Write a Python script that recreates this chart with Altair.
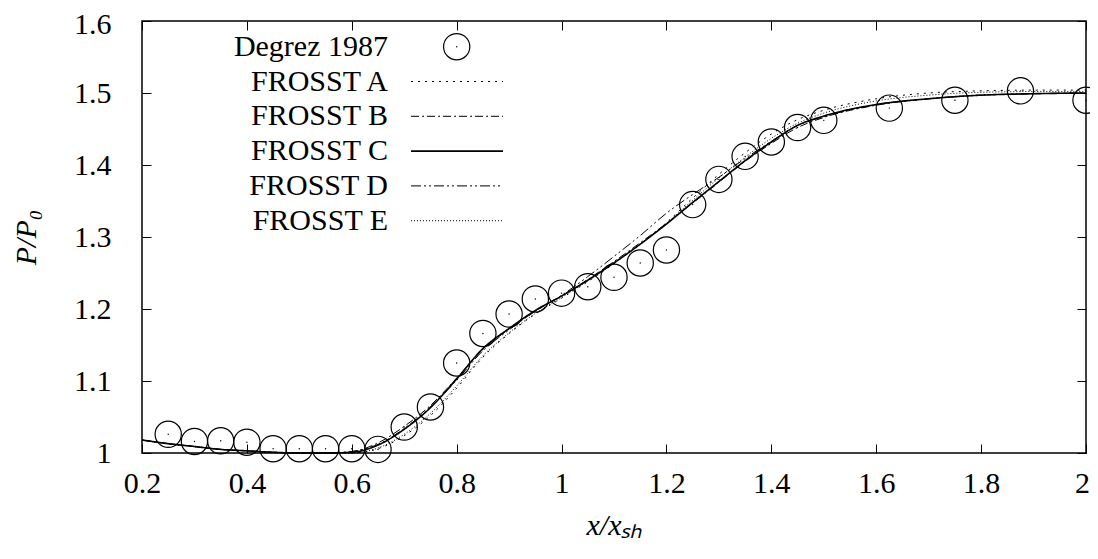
import altair as alt
import pandas as pd

# ---- data ----
x_exp = [0.25, 0.30, 0.35, 0.40, 0.45, 0.50, 0.55, 0.60, 0.65, 0.70, 0.75, 0.80,
         0.85, 0.90, 0.95, 1.00, 1.05, 1.10, 1.15, 1.20, 1.25, 1.30, 1.35, 1.40,
         1.45, 1.50, 1.625, 1.75, 1.875, 2.0]
y_exp = [1.026, 1.016, 1.017, 1.015, 1.006, 1.006, 1.006, 1.006, 1.005, 1.036, 1.064, 1.125,
         1.166, 1.193, 1.214, 1.222, 1.231, 1.244, 1.264, 1.282, 1.345, 1.380, 1.412, 1.432,
         1.452, 1.462, 1.479, 1.490, 1.503, 1.490]

x_sim = [0.20, 0.25, 0.30, 0.35, 0.40, 0.45, 0.50, 0.55, 0.60, 0.65, 0.70, 0.75, 0.80,
         0.85, 0.90, 0.95, 1.00, 1.05, 1.10, 1.15, 1.20, 1.25, 1.30, 1.35, 1.40, 1.45,
         1.50, 1.60, 1.70, 1.80, 1.90, 2.00]
frosst_a = [1.018, 1.013, 1.009, 1.005, 1.003, 1.001, 1.000, 1.000, 1.000, 1.006, 1.024, 1.052, 1.090,
            1.133, 1.166, 1.193, 1.215, 1.238, 1.263, 1.290, 1.320, 1.354, 1.387, 1.417, 1.443, 1.463,
            1.476, 1.492, 1.500, 1.503, 1.504, 1.504]
frosst_b = [1.018, 1.013, 1.009, 1.005, 1.003, 1.001, 1.000, 1.000, 1.002, 1.014, 1.037, 1.066, 1.104,
            1.144, 1.172, 1.197, 1.218, 1.241, 1.266, 1.292, 1.319, 1.347, 1.376, 1.405, 1.430, 1.452,
            1.466, 1.483, 1.492, 1.497, 1.499, 1.500]
frosst_c = [1.018, 1.013, 1.009, 1.005, 1.003, 1.001, 1.000, 1.000, 1.001, 1.011, 1.033, 1.063, 1.103,
            1.145, 1.173, 1.198, 1.218, 1.240, 1.264, 1.290, 1.318, 1.348, 1.377, 1.406, 1.432, 1.455,
            1.468, 1.484, 1.492, 1.497, 1.499, 1.500]
frosst_d = [1.018, 1.013, 1.009, 1.005, 1.003, 1.001, 1.000, 1.000, 1.002, 1.012, 1.034, 1.064, 1.101,
            1.142, 1.171, 1.197, 1.219, 1.245, 1.273, 1.302, 1.333, 1.359, 1.383, 1.409, 1.433, 1.455,
            1.467, 1.484, 1.492, 1.497, 1.499, 1.500]
frosst_e = [1.018, 1.013, 1.009, 1.005, 1.003, 1.001, 1.000, 1.000, 1.000, 1.007, 1.026, 1.055, 1.093,
            1.135, 1.167, 1.194, 1.216, 1.239, 1.264, 1.290, 1.319, 1.351, 1.382, 1.411, 1.437, 1.458,
            1.472, 1.489, 1.497, 1.501, 1.502, 1.502]

series_names = ["FROSST A", "FROSST B", "FROSST C", "FROSST D", "FROSST E"]
series_vals = [frosst_a, frosst_b, frosst_c, frosst_d, frosst_e]
series_dash = [[2, 5], [8, 3, 2, 3], [1, 0], [10, 3, 2, 3, 2, 3], [1, 2]]
series_width = [1.0, 1.0, 1.6, 1.0, 1.0]
exp_name = "Degrez 1987"

x_ticks = [0.2, 0.4, 0.6, 0.8, 1.0, 1.2, 1.4, 1.6, 1.8, 2.0]
y_ticks = [1.0, 1.1, 1.2, 1.3, 1.4, 1.5, 1.6]

# ---- frames ----
exp_df = pd.DataFrame({"x": x_exp, "y": y_exp})
sim_df = pd.DataFrame([
    {"series": n, "x": xv, "y": yv}
    for n, vals in zip(series_names, series_vals)
    for xv, yv in zip(x_sim, vals)
])
legend_df = pd.DataFrame({"name": [exp_name] + series_names,
                          "row": list(range(len(series_names) + 1))})

FONT = "Liberation Serif"
FS = 30
W, H = 944, 432
xs = alt.Scale(domain=[0.2, 2.0], nice=False, zero=False)
ys = alt.Scale(domain=[1.0, 1.6], nice=False, zero=False)

x_axis = alt.Axis(orient="bottom", values=x_ticks, format="~g", offset=-9, tickSize=9,
                  labelFlush=False, labelPadding=15,
                  labelOffset={"condition": {"test": "datum.value >= 1.99", "value": -4}, "value": 0},
                  title="x/xₛₕ", titlePadding=12)
y_axis = alt.Axis(orient="left", values=y_ticks, format="~g", offset=-9, tickSize=9,
                  labelFlush=False, labelPadding=31,
                  labelOffset={"condition": {"test": "datum.value >= 1.59", "value": 3}, "value": 0},
                  title="P/P₀", titlePadding=32)
x_top = alt.Axis(orient="top", values=x_ticks, offset=-9, tickSize=9, labels=False, title=None)
y_right = alt.Axis(orient="right", values=y_ticks, offset=-9, tickSize=9, labels=False, title=None)

layers = []
for n, dash, sw in zip(series_names, series_dash, series_width):
    layers.append(
        alt.Chart(sim_df).transform_filter(alt.datum.series == n)
        .mark_line(color="black", strokeDash=dash, strokeWidth=sw, interpolate="monotone")
        .encode(x=alt.X("x:Q", scale=xs, axis=None), y=alt.Y("y:Q", scale=ys, axis=None))
    )

circles = alt.Chart(exp_df).mark_point(shape="circle", filled=False, size=690, color="black",
                                        strokeWidth=1.2, opacity=1, clip=False).encode(
    x=alt.X("x:Q", scale=xs, axis=x_axis), y=alt.Y("y:Q", scale=ys, axis=y_axis))
dots = alt.Chart(exp_df).mark_circle(size=2, color="black", opacity=1).encode(
    x=alt.X("x:Q", scale=xs, axis=x_top), y=alt.Y("y:Q", scale=ys, axis=y_right))
layers += [circles, dots]

# ---- legend (gnuplot style: text then sample) ----
ly = alt.Scale(domain=[0, 5], range=[25.7, 199.7])
leg_text = alt.Chart(legend_df).mark_text(align="right", baseline="middle", font=FONT,
                                          fontSize=FS, color="black").encode(
    x=alt.value(246), y=alt.Y("row:Q", scale=ly, axis=None), text="name:N")
layers.append(leg_text)
leg_circle = alt.Chart(legend_df).transform_filter(alt.datum.row == 0).mark_point(
    shape="circle", filled=False, size=690, color="black", strokeWidth=1.2, opacity=1).encode(
    x=alt.value(314.7), y=alt.Y("row:Q", scale=ly, axis=None))
leg_dot = alt.Chart(legend_df).transform_filter(alt.datum.row == 0).mark_circle(
    size=2, color="black", opacity=1).encode(x=alt.value(314.7), y=alt.Y("row:Q", scale=ly, axis=None))
layers += [leg_circle, leg_dot]
for n, dash, sw in zip(series_names, series_dash, series_width):
    layers.append(
        alt.Chart(legend_df).transform_filter(alt.datum.name == n)
        .mark_rule(color="black", strokeDash=dash, strokeWidth=sw)
        .encode(x=alt.value(269), x2=alt.value(361), y=alt.Y("row:Q", scale=ly, axis=None))
    )

chart = alt.layer(*layers).resolve_scale(x="independent", y="independent").resolve_axis(
    x="independent", y="independent").properties(
    width=W, height=H, autosize="none",
    padding={"left": 134, "top": 13, "right": 4, "bottom": 90},
).configure_view(stroke="black", strokeWidth=1.5).configure_axis(
    labelFont=FONT, labelFontSize=FS, labelColor="black", tickColor="black", tickWidth=1,
    domain=False, grid=False, titleFont=FONT, titleFontSize=FS, titleFontStyle="italic",
    titleFontWeight="normal", titleColor="black",
)

chart.save("out.html", embed_options={"renderer": "svg", "actions": False})
